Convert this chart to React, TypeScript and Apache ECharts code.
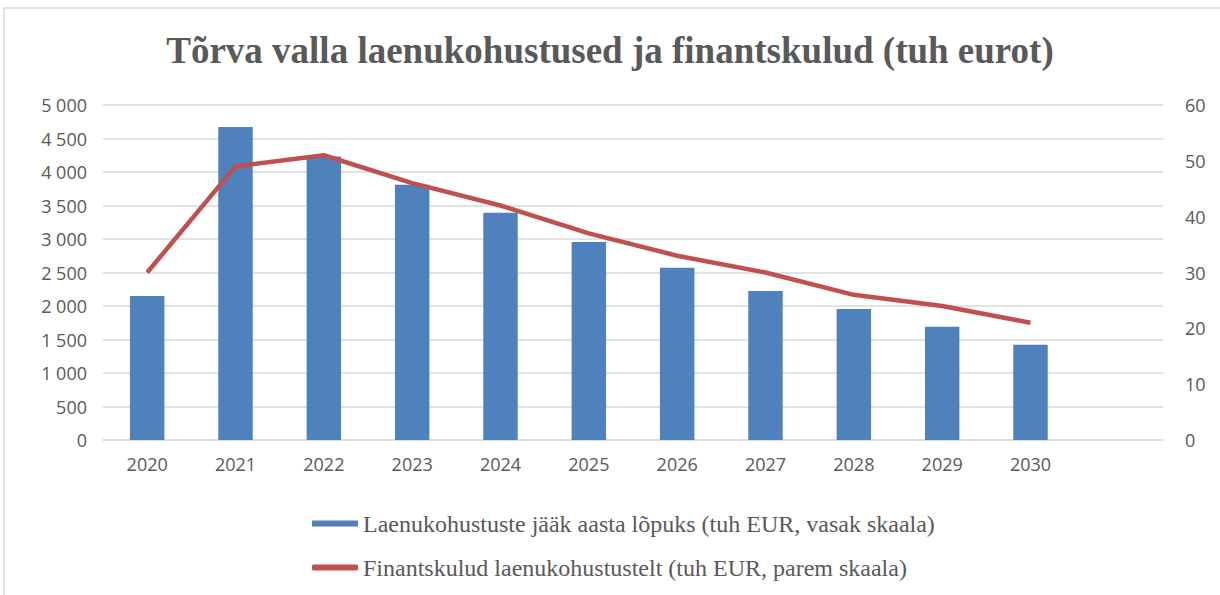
import React, { useEffect, useRef } from "react";
import * as echarts from "echarts";

const years = ["2020", "2021", "2022", "2023", "2024", "2025", "2026", "2027", "2028", "2029", "2030", ""];
const debtValues = [2150, 4670, 4230, 3810, 3390, 2955, 2570, 2225, 1955, 1690, 1420];
const financeCosts = [30, 49, 51, 46, 42, 37, 33, 30, 26, 24, 21];
const leftTicks = { min: 0, max: 5000, interval: 500 };
const rightTicks = { min: 0, max: 60, interval: 10 };
const title = "Tõrva valla laenukohustused ja finantskulud (tuh eurot)";
const debtName = "Laenukohustuste jääk aasta lõpuks (tuh EUR, vasak skaala)";
const costName = "Finantskulud laenukohustustelt (tuh EUR, parem skaala)";

const fmt = (v: number) => {
  const s = String(v);
  return s.length > 3 ? s.slice(0, s.length - 3) + " " + s.slice(s.length - 3) : s;
};

export default function App() {
  const ref = useRef<HTMLDivElement>(null);
  useEffect(() => {
    if (!ref.current) return;
    const chart = echarts.init(ref.current, null, { renderer: "svg" });
    const gray = "#595959";
    chart.setOption({
      animation: false,
      backgroundColor: "#ffffff",
      title: {
        text: title,
        left: "center",
        top: 27,
        textStyle: {
          fontFamily: "Liberation Serif",
          fontWeight: "bold",
          fontSize: 37,
          color: gray,
        },
      },
      graphic: [
        {
          type: "rect",
          shape: { x: 4, y: 8, width: 1240, height: 620 },
          style: { fill: "none", stroke: "#d9d9d9", lineWidth: 1.5 },
          silent: true,
        },
      ],
      grid: { left: 103, right: 57, top: 105, bottom: 155 },
      legend: {
        orient: "vertical",
        left: 307,
        top: 506,
        itemGap: 19,
        itemWidth: 46,
        itemHeight: 6,
        textStyle: { fontFamily: "Liberation Serif", fontSize: 24, lineHeight: 25, color: gray },
        data: [
          { name: debtName, icon: "rect" },
          { name: costName, icon: "roundRect" },
        ],
      },
      xAxis: {
        type: "category",
        data: years,
        axisTick: { show: false },
        axisLine: { lineStyle: { color: "#d9d9d9", width: 1.5 } },
        axisLabel: {
          color: gray,
          fontFamily: "Open Sans",
          fontSize: 18,
          margin: 15,
        },
      },
      yAxis: [
        {
          type: "value",
          ...leftTicks,
          position: "left",
          axisLabel: {
            color: gray,
            fontFamily: "Open Sans",
            fontSize: 18,
            margin: 16,
            formatter: (v: number) => fmt(v),
          },
          splitLine: { lineStyle: { color: "#d9d9d9", width: 1.5 } },
          axisLine: { show: false },
          axisTick: { show: false },
        },
        {
          type: "value",
          ...rightTicks,
          position: "right",
          axisLabel: {
            color: gray,
            fontFamily: "Open Sans",
            fontSize: 18,
            margin: 22,
          },
          splitLine: { show: false },
          axisLine: { show: false },
          axisTick: { show: false },
        },
      ],
      series: [
        {
          name: debtName,
          type: "bar",
          data: debtValues,
          yAxisIndex: 0,
          barWidth: "39%",
          itemStyle: { color: "#4f81bd" },
        },
        {
          name: costName,
          type: "line",
          data: financeCosts,
          yAxisIndex: 1,
          symbol: "none",
          lineStyle: { color: "#c0504d", width: 4.5 },
          itemStyle: { color: "#c0504d" },
        },
      ],
    });
    return () => chart.dispose();
  }, []);
  return (
    <div
      ref={ref}
      style={{ position: "absolute", left: 0, top: 0, width: 1220, height: 595 }}
    />
  );
}
